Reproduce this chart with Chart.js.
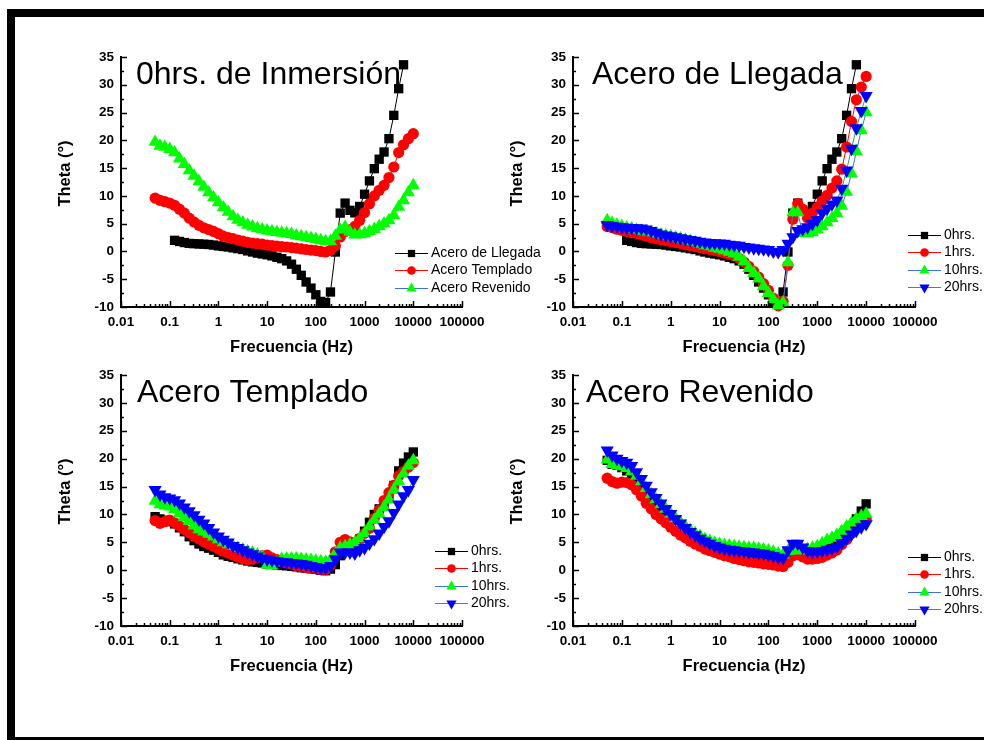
<!DOCTYPE html>
<html>
<head>
<meta charset="utf-8">
<script src="https://cdn.jsdelivr.net/npm/chart.js@4.4.1/dist/chart.umd.min.js"></script>
<style>
  html, body { margin: 0; padding: 0; background: #fff; overflow: hidden; }
  body { width: 984px; height: 740px; position: relative; }
  .frame {
    position: absolute; left: 7px; top: 9px; width: 1000px; height: 736px;
    box-sizing: border-box;
    border-top: 8px solid #000; border-left: 8px solid #000; border-bottom: 8px solid #000;
  }
  canvas { position: absolute; left: 0; top: 0; }
</style>
</head>
<body>
<div class="frame"></div>
<canvas id="c1" width="984" height="740"></canvas>
<canvas id="c2" width="984" height="740"></canvas>
<canvas id="c3" width="984" height="740"></canvas>
<canvas id="c4" width="984" height="740"></canvas>
<script>
// sweep frequencies (Hz), high to low
const freq = [
  10000, 7943, 6310, 5012, 3981, 3162, 2512, 1995, 1585, 1259,
  1000, 794.3, 631.0, 501.2, 398.1, 316.2, 251.2, 199.5, 158.5, 125.9,
  100.0, 79.43, 63.10, 50.12, 39.81, 31.62, 25.12, 19.95, 15.85, 12.59,
  10.00, 7.943, 6.310, 5.012, 3.981, 3.162, 2.512, 1.995, 1.585, 1.259,
  1.000, 0.7943, 0.6310, 0.5012, 0.3981, 0.3162, 0.2512, 0.1995, 0.1585, 0.1259,
  0.1000, 0.07943, 0.06310, 0.05012
];

// phase angle (deg) - Acero de Llegada
const llegada0 = [
  null, null, 33.6, 29.3, 24.5, 20.3, 17.9, 16.6, 14.9, 12.7,
  10.3, 8.1, 6.95, 7.4, 8.7, 6.9, -0.1, -7.3, -9.2, -9.0,
  -7.8, -6.6, -5.5, -4.3, -3.2, -2.3, -1.7, -1.3, -1.05, -0.8,
  -0.6, -0.45, -0.3, -0.1, 0.1, 0.35, 0.5, 0.65, 0.8, 0.9,
  1.0, 1.15, 1.25, 1.3, 1.35, 1.4, 1.45, 1.6, 1.8, 2.0,
  null, null, null, null
];
const llegada1 = [
  31.5, 29.6, 27.3, 23.4, 18.8, 14.8, 12.7, 11.4, 10.1, 9.1,
  7.9, 6.9, 6.0, 7.6, 8.6, 5.8, -2.5, -9.0, -9.8, -8.4,
  -7.0, -5.8, -4.6, -3.6, -2.7, -1.9, -1.25, -0.8, -0.5, -0.25,
  0.0, 0.2, 0.35, 0.5, 0.7, 0.9, 1.05, 1.2, 1.45, 1.6,
  1.75, 1.95, 2.1, 2.3, 2.5, 2.75, 3.0, 3.25, 3.4, 3.6,
  3.8, 4.0, 4.3, 4.5
];
const llegada10 = [
  25.0, 21.8, 18.0, 14.0, 10.7, 8.2, 6.9, 6.0, 5.2, 4.5,
  3.9, 3.4, 3.25, 3.3, 7.0, 7.0, -2.0, -9.2, -9.7, -8.6,
  -7.5, -6.3, -4.9, -3.9, -3.0, -1.8, -1.0, -0.4, -0.1, 0.2,
  0.45, 0.65, 0.9, 1.1, 1.35, 1.6, 1.85, 2.1, 2.3, 2.5,
  2.7, 2.85, 3.0, 3.2, 3.4, 3.55, 3.7, 3.9, 4.1, 4.3,
  4.5, 4.8, 5.1, 5.6
];
const llegada20 = [
  28.0, 25.3, 22.2, 18.5, 14.6, 11.3, 9.2, 8.5, 7.7, 6.9,
  5.7, 5.0, 4.4, 4.05, 3.7, 2.6, 1.4, 0.3, -0.1, 0.0,
  0.3, 0.4, 0.5, 0.6, 0.75, 0.85, 1.05, 1.15, 1.25, 1.4,
  1.45, 1.5, 1.55, 1.65, 1.8, 1.95, 2.1, 2.25, 2.4, 2.6,
  2.75, 2.9, 3.1, 3.4, 3.7, 4.0, 4.15, 4.2, 4.25, 4.3,
  4.4, 4.5, 4.6, 4.8
];

// phase angle (deg) - Acero Templado
const templado0 = [
  21.2, 20.3, 19.2, 17.8, 15.2, 13.3, 11.9, 11.0, 10.0, 8.6,
  7.0, 5.6, 4.5, 3.9, 3.6, 2.6, 1.0, 0.2, -0.1, 0.0,
  0.15, 0.25, 0.35, 0.45, 0.6, 0.7, 0.8, 0.85, 0.95, 1.05,
  1.15, 1.3, 1.4, 1.5, 1.65, 1.85, 2.05, 2.3, 2.5, 2.75,
  3.2, 3.6, 3.95, 4.25, 4.7, 5.3, 6.0, 6.9, 7.6, 8.3,
  8.7, 8.95, 9.2, 9.6
];
const templado1 = [
  19.3, 18.5, 17.7, 16.9, 15.2, 13.9, 12.5, 10.8, 9.3, 7.5,
  6.6, 5.7, 4.8, 5.1, 5.5, 5.0, 3.3, 0.9, 0.1, 0.1,
  0.3, 0.4, 0.5, 0.6, 0.8, 1.1, 1.3, 1.5, 1.9, 2.2,
  2.7, 2.6, 2.3, 2.0, 1.85, 2.05, 2.35, 2.7, 3.1, 3.4,
  3.8, 4.3, 4.7, 5.1, 5.6, 6.1, 6.7, 7.3, 7.9, 8.5,
  9.0, 8.7, 8.4, 8.9
];
const templado10 = [
  19.7, 18.7, 17.3, 15.9, 14.4, 12.7, 11.3, 10.1, 9.0, 7.8,
  6.6, 5.7, 5.0, 4.6, 4.3, 4.0, 3.0, 1.8, 1.5, 1.6,
  1.7, 1.8, 1.9, 2.0, 2.1, 2.1, 2.1, 2.0, 1.4, 0.8,
  1.0, 2.4, 2.8, 3.1, 3.4, 3.7, 4.0, 4.3, 4.6, 5.0,
  5.5, 6.0, 6.5, 6.9, 7.3, 8.0, 8.8, 9.5, 10.2, 10.9,
  11.4, 11.55, 11.8, 12.4
];
const templado20 = [
  16.2, 14.4, 13.3, 11.8, 10.3, 8.8, 7.8, 6.6, 5.6, 4.8,
  4.0, 3.6, 3.0, 3.2, 3.2, 3.2, 2.0, 0.8, 0.4, 0.4,
  0.6, 0.8, 1.0, 1.15, 1.25, 1.35, 1.45, 1.5, 1.65, 1.8,
  1.95, 2.15, 2.5, 2.9, 3.2, 3.6, 4.0, 4.4, 5.0, 5.5,
  6.1, 6.8, 7.6, 8.4, 9.1, 9.9, 10.6, 11.3, 12.0, 12.6,
  12.9, 13.1, 13.6, 14.4
];

// phase angle (deg) - Acero Revenido
const revenido0 = [
  11.9, 10.6, 9.2, 8.0, 6.5, 5.6, 5.0, 4.5, 4.0, 3.6,
  3.25, 3.05, 3.0, 3.5, 4.4, 3.9, 2.8, 1.8, 1.8, 2.0,
  2.2, 2.4, 2.55, 2.7, 2.85, 3.1, 3.25, 3.35, 3.45, 3.6,
  3.75, 3.95, 4.15, 4.45, 4.75, 5.2, 5.65, 6.3, 7.1, 7.9,
  8.8, 9.7, 10.6, 11.6, 12.6, 13.6, 14.6, 15.7, 16.7, 17.8,
  18.4, 18.8, 19.0, 19.7
];
const revenido1 = [
  9.2, 8.6, 7.7, 6.6, 5.5, 4.6, 3.6, 3.1, 2.7, 2.3,
  2.1, 2.0, 2.0, 2.4, 2.8, 2.6, 1.4, 0.65, 0.75, 0.95,
  1.05, 1.15, 1.3, 1.4, 1.5, 1.7, 1.9, 2.1, 2.4, 2.6,
  2.9, 3.2, 3.5, 3.8, 4.3, 4.7, 5.2, 5.8, 6.3, 7.0,
  7.7, 8.5, 9.2, 10.0, 11.0, 12.0, 13.3, 14.4, 15.3, 15.7,
  15.8, 15.6, 15.9, 16.5
];
const revenido10 = [
  10.1, 9.7, 9.2, 8.5, 7.8, 7.0, 6.3, 5.8, 5.4, 4.8,
  4.3, 4.0, 3.8, 3.6, 3.5, 3.9, 3.4, 2.8, 3.0, 3.3,
  3.5, 3.7, 3.85, 3.95, 4.0, 4.1, 4.2, 4.3, 4.4, 4.5,
  4.7, 4.9, 5.2, 5.6, 6.1, 6.6, 7.2, 7.9, 8.6, 9.3,
  10.1, 11.0, 11.8, 12.7, 13.6, 14.7, 15.9, 16.9, 17.7, 18.3,
  18.6, 18.8, 19.0, 19.8
];
const revenido20 = [
  8.3, 7.7, 7.1, 6.4, 5.7, 4.9, 4.2, 3.9, 3.7, 3.5,
  3.4, 3.3, 3.5, 4.1, 4.8, 4.8, 3.6, 2.2, 2.3, 2.6,
  2.8, 3.0, 3.1, 3.2, 3.3, 3.4, 3.5, 3.6, 3.7, 3.9,
  4.1, 4.4, 4.8, 5.2, 5.7, 6.3, 6.9, 7.6, 8.4, 9.2,
  10.1, 11.0, 12.0, 13.0, 14.0, 15.2, 16.4, 17.6, 18.7, 19.3,
  19.6, 20.0, 20.6, 21.5
];

const decades = [0.01, 0.1, 1, 10, 100, 1000, 10000, 100000];
const yTicks = [-10, -5, 0, 5, 10, 15, 20, 25, 30, 35];
const steelNames = ['Acero de Llegada', 'Acero Templado', 'Acero Revenido'];
const hourNames = ['0hrs.', '1hrs.', '10hrs.', '20hrs.'];

const FONT = '"Liberation Sans", Arial, Helvetica, sans-serif';
Chart.defaults.font.family = FONT;
Chart.defaults.color = '#000';

// marker + line look for the 1st..4th series of a panel
const looks = [
  { line: '#000000', fill: '#000000', style: 'rect', radius: 6.6, rot: 0 },
  { line: '#ff0000', fill: '#ff0000', style: 'circle', radius: 5.6, rot: 0 },
  { line: '#3a6fe0', fill: '#00ff00', style: 'triangle', radius: 7.6, rot: 0 },
  { line: '#2e9e5e', fill: '#0000ff', style: 'triangle', radius: 7.6, rot: 180 }
];

// inward tick marks, panel heading, y title and the small legend
const panelDecor = {
  id: 'panelDecor',
  afterDraw(chart, args, opts) {
    const { ctx, chartArea: a, scales: { x, y } } = chart;
    ctx.save();
    ctx.strokeStyle = '#000';
    ctx.lineWidth = 1.5;
    ctx.beginPath();
    decades.forEach((d, k) => {
      const px = Math.round(x.getPixelForValue(d)) + 0.5;
      ctx.moveTo(px, a.bottom);
      ctx.lineTo(px, a.bottom - 6);
      if (k < decades.length - 1) {
        for (let m = 2; m < 10; m++) {
          const mx = Math.round(x.getPixelForValue(d * m)) + 0.5;
          ctx.moveTo(mx, a.bottom);
          ctx.lineTo(mx, a.bottom - 3);
        }
      }
    });
    yTicks.forEach((v, k) => {
      const py = Math.round(y.getPixelForValue(v)) + 0.5;
      ctx.moveTo(a.left, py);
      ctx.lineTo(a.left + 6, py);
      if (k < yTicks.length - 1) {
        const my = Math.round(y.getPixelForValue(v + 2.5)) + 0.5;
        ctx.moveTo(a.left, my);
        ctx.lineTo(a.left + 3, my);
      }
    });
    ctx.stroke();

    // heading inside the plot
    ctx.fillStyle = '#000';
    ctx.font = '32px ' + FONT;
    ctx.textAlign = 'left';
    ctx.textBaseline = 'alphabetic';
    ctx.fillText(opts.title, a.left + opts.titleDx, a.top + 27);

    // y axis title
    ctx.save();
    ctx.translate(a.left - 56, a.top + 116.5);
    ctx.rotate(-Math.PI / 2);
    ctx.font = 'bold 16.5px ' + FONT;
    ctx.textAlign = 'center';
    ctx.textBaseline = 'middle';
    ctx.fillText('Theta (°)', 0, 0);
    ctx.restore();

    // legend
    ctx.font = '14px ' + FONT;
    ctx.textBaseline = 'middle';
    chart.data.datasets.forEach((ds, i) => {
      const ly = Math.round(opts.legendY + i * 17.3) + 0.5;
      const lx = opts.legendX;
      ctx.strokeStyle = ds.borderColor;
      ctx.lineWidth = 1;
      ctx.beginPath();
      ctx.moveTo(lx, ly);
      ctx.lineTo(lx + 33, ly);
      ctx.stroke();
      ctx.fillStyle = ds.pointBackgroundColor;
      Chart.helpers.drawPoint(ctx, {
        pointStyle: ds.pointStyle, radius: ds.pointRadius * 0.78,
        rotation: ds.pointRotation, borderWidth: 0
      }, lx + 16.5, ly);
      ctx.fillStyle = '#000';
      ctx.fillText(ds.label, lx + 36, ly);
    });
    ctx.restore();
  }
};

function makePanel(id, box, title, titleDx, legendX, legendY, names, seriesList) {
  const datasets = seriesList.map((ys, i) => {
    const lk = looks[i];
    return {
      label: names[i],
      data: freq.map((f, j) => ({ x: f, y: ys[j] })),
      borderColor: lk.line,
      borderWidth: 1,
      pointStyle: lk.style,
      pointRadius: lk.radius,
      pointRotation: lk.rot,
      pointBackgroundColor: lk.fill,
      pointBorderWidth: 0,
      tension: 0,
      clip: false,
      order: -i
    };
  });
  const axisBorder = { display: true, color: '#000', width: 2 };
  const noGrid = { drawOnChartArea: false, drawTicks: false };
  return new Chart(document.getElementById(id), {
    type: 'line',
    data: { datasets },
    plugins: [panelDecor],
    options: {
      responsive: false,
      animation: false,
      devicePixelRatio: 1,
      events: [],
      layout: {
        padding: { left: box.l - 64, top: box.t, right: 984 - box.r, bottom: 740 - box.b - 50 }
      },
      plugins: {
        legend: { display: false },
        tooltip: { enabled: false },
        panelDecor: { title, titleDx, legendX, legendY }
      },
      scales: {
        x: {
          type: 'logarithmic',
          min: 0.01,
          max: 100000,
          afterBuildTicks: s => { s.ticks = decades.map(v => ({ value: v })); },
          afterFit: s => { s.height = 50; },
          grid: noGrid,
          border: axisBorder,
          ticks: {
            autoSkip: false, maxRotation: 0, minRotation: 0, padding: 7,
            color: '#000', font: { size: 13.5, weight: 'bold' },
            callback: v => String(v)
          },
          title: {
            display: true, text: 'Frecuencia (Hz)', color: '#000', padding: 0,
            font: { size: 16.5, weight: 'bold' }
          }
        },
        y: {
          min: -10,
          max: 35,
          afterBuildTicks: s => { s.ticks = yTicks.map(v => ({ value: v })); },
          afterFit: s => { s.width = 64; },
          grid: noGrid,
          border: axisBorder,
          ticks: { padding: 7, color: '#000', font: { size: 13.5, weight: 'bold' } }
        }
      }
    }
  });
}

makePanel('c1', { l: 121, t: 57, r: 462, b: 307 }, '0hrs. de Inmersión', 15, 395, 253,
  steelNames, [llegada0, templado0, revenido0]);
makePanel('c2', { l: 573, t: 57, r: 915, b: 307 }, 'Acero de Llegada', 19, 908, 235,
  hourNames, [llegada0, llegada1, llegada10, llegada20]);
makePanel('c3', { l: 121, t: 375, r: 462, b: 626 }, 'Acero Templado', 16, 435, 551,
  hourNames, [templado0, templado1, templado10, templado20]);
makePanel('c4', { l: 573, t: 375, r: 915, b: 626 }, 'Acero Revenido', 13, 908, 557,
  hourNames, [revenido0, revenido1, revenido10, revenido20]);
</script>
</body>
</html>
